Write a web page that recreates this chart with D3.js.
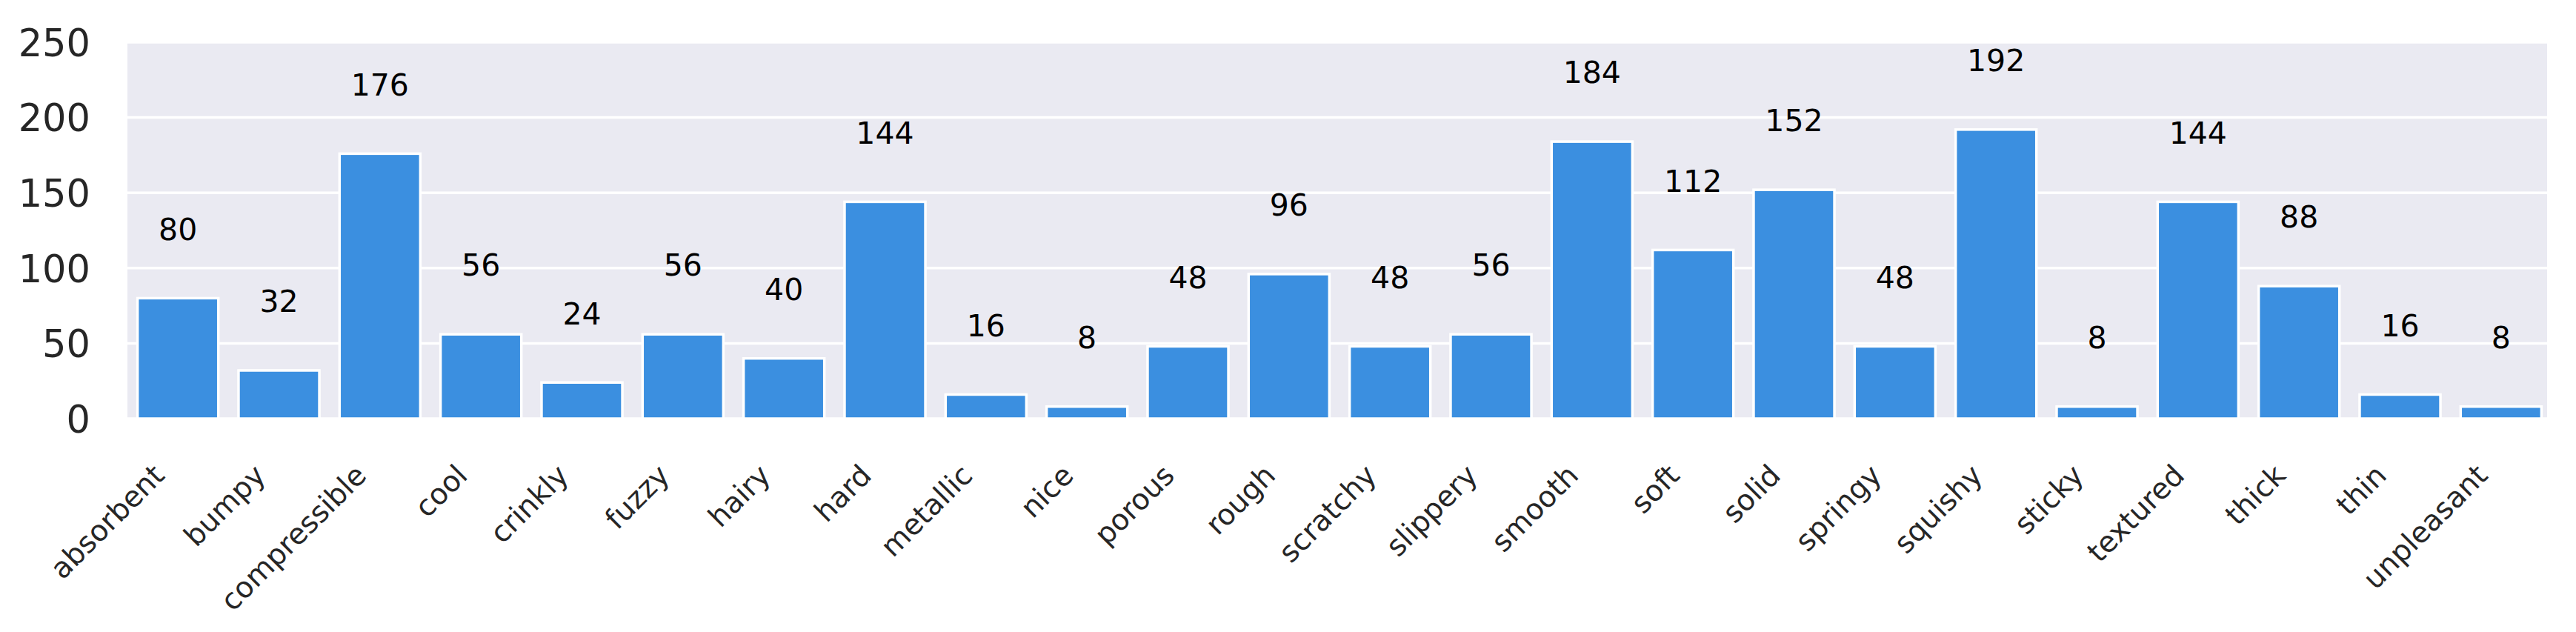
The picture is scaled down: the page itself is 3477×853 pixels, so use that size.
<!DOCTYPE html>
<html>
<head>
<meta charset="utf-8">
<script src="https://cdn.jsdelivr.net/npm/d3@7"></script>
<style>
  html, body { margin: 0; padding: 0; background: #ffffff; }
  svg { display: block; }
</style>
</head>
<body>
<svg id="chart" width="3477" height="853"></svg>
<script>
const categories = ["absorbent","bumpy","compressible","cool","crinkly","fuzzy","hairy","hard","metallic","nice","porous","rough","scratchy","slippery","smooth","soft","solid","springy","squishy","sticky","textured","thick","thin","unpleasant"];
const counts = [80,32,176,56,24,56,40,144,16,8,48,96,48,56,184,112,152,48,192,8,144,88,16,8];
const yTicks = [0,50,100,150,200,250];

const W = 3477, H = 853;
const margin = {left: 172, top: 57, right: 39, bottom: 288};
const iw = W - margin.left - margin.right;
const ih = H - margin.top - margin.bottom;
const font = "DejaVu Sans, sans-serif";

const svg = d3.select("#chart");
const g = svg.append("g").attr("transform", `translate(${margin.left},${margin.top})`);

const x = d3.scaleBand().domain(categories).range([0, iw + 6]).paddingInner(0.2).paddingOuter(0.1);
const y = d3.scaleLinear().domain([0, 250]).range([ih, 0]);

// background
g.append("rect").attr("x", 0).attr("y", 0).attr("width", iw).attr("height", ih).attr("fill", "#EAEAF2");

// gridlines
g.selectAll("line.grid").data(yTicks).enter().append("line")
  .attr("class", "grid")
  .attr("x1", 0).attr("x2", iw)
  .attr("y1", d => y(d)).attr("y2", d => y(d))
  .attr("stroke", "#ffffff").attr("stroke-width", 3.5);

// bars
g.selectAll("rect.bar").data(counts).enter().append("rect")
  .attr("class", "bar")
  .attr("x", (d, i) => x(categories[i]))
  .attr("width", x.bandwidth())
  .attr("y", d => y(d))
  .attr("height", d => y(0) - y(d))
  .attr("fill", "#3B8FE0")
  .attr("stroke", "#ffffff").attr("stroke-width", 3.5);

// value labels
const lfs = 41;
g.selectAll("text.val").data(counts).enter().append("text")
  .attr("class", "val")
  .attr("x", (d, i) => x(categories[i]) + x.bandwidth() / 2)
  .attr("y", d => y(d + 46) + 0.36 * lfs)
  .attr("text-anchor", "middle")
  .attr("font-family", font).attr("font-size", lfs)
  .attr("fill", "#000000")
  .text(d => d);

// y axis
const yAxis = d3.axisLeft(y).tickValues(yTicks).tickSize(0).tickPadding(50);
const ya = g.append("g").call(yAxis);
ya.select(".domain").remove();
ya.selectAll("text").attr("font-family", font).attr("font-size", 51).attr("fill", "#262626").attr("dy", "0.36em");

// x axis
const xAxis = d3.axisBottom(x).tickSize(0);
const xa = g.append("g").attr("transform", `translate(0,${ih})`).call(xAxis);
xa.select(".domain").remove();
xa.selectAll("text")
  .attr("font-family", font).attr("font-size", 39).attr("fill", "#262626")
  .attr("text-anchor", "end")
  .attr("x", 0).attr("y", 0).attr("dy", 0)
  .attr("transform", "translate(-16,79) rotate(-45)");
</script>
</body>
</html>
